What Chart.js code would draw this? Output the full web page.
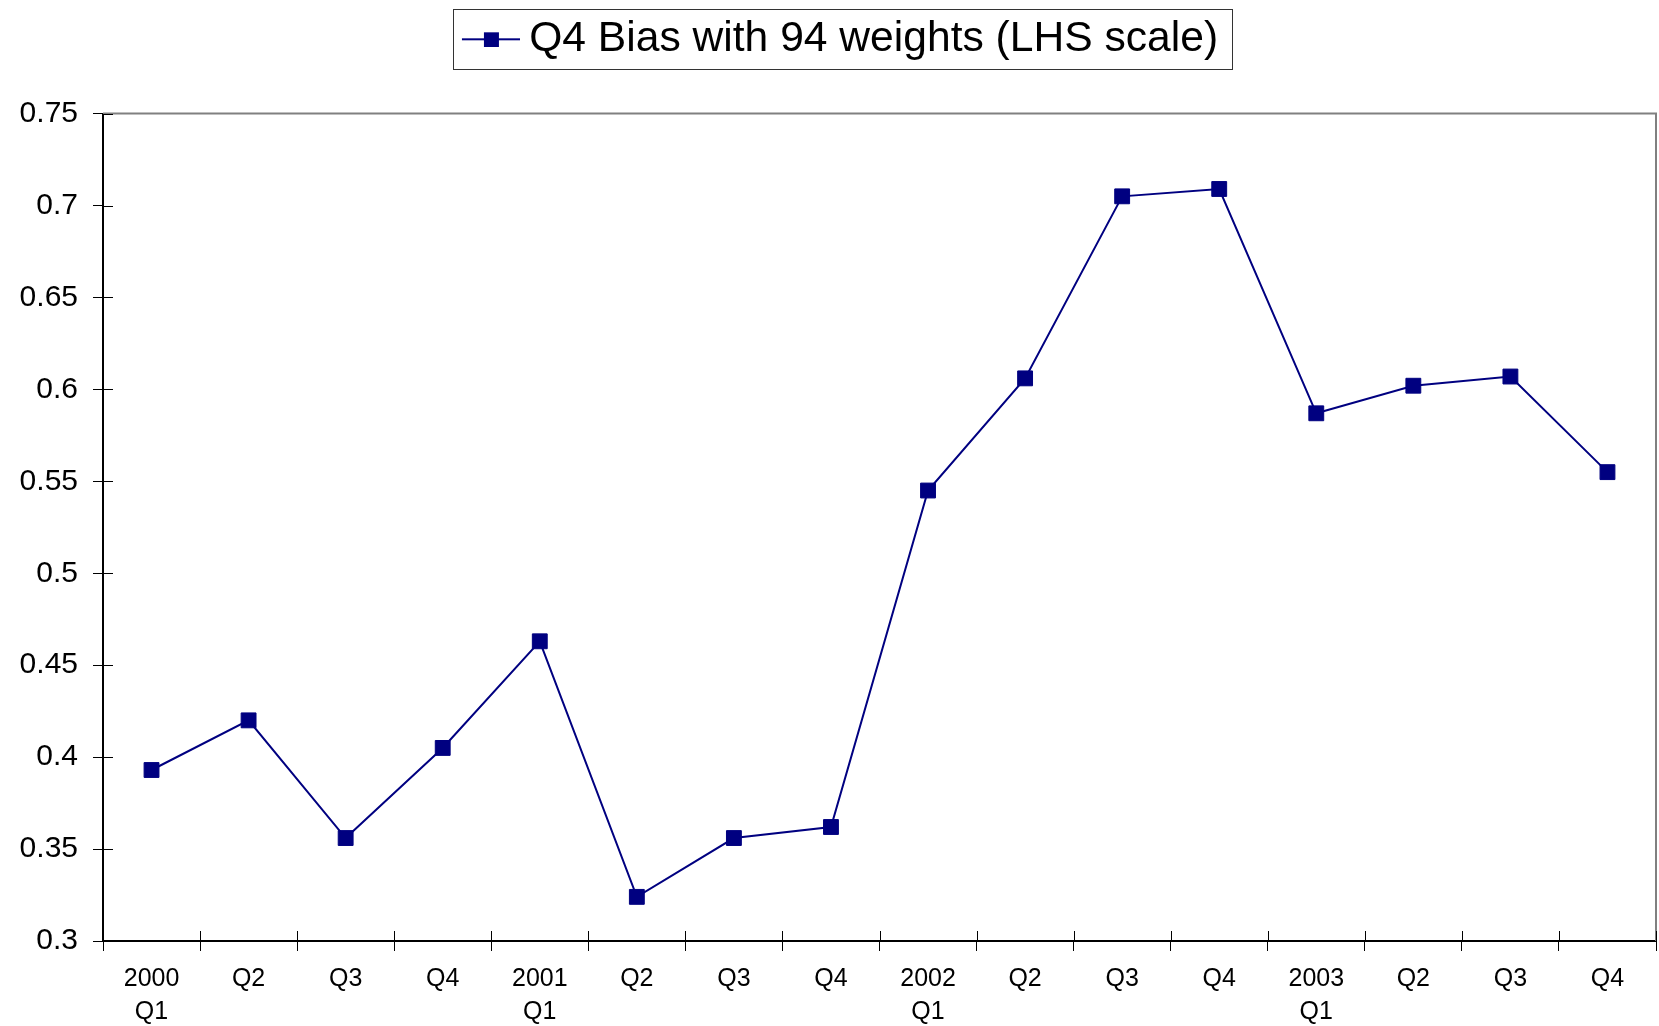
<!DOCTYPE html>
<html>
<head>
<meta charset="utf-8">
<script src="https://cdn.jsdelivr.net/npm/chart.js@4/dist/chart.umd.min.js"></script>
<style>
  body { margin: 0; background: #fff; }
  canvas { display: block; }
</style>
</head>
<body>
<canvas id="bias-chart" width="1659" height="1026"></canvas>
<script>
const quarters = [
  ["2000", "Q1"], "Q2", "Q3", "Q4",
  ["2001", "Q1"], "Q2", "Q3", "Q4",
  ["2002", "Q1"], "Q2", "Q3", "Q4",
  ["2003", "Q1"], "Q2", "Q3", "Q4"
];
const biasValues = [0.393, 0.420, 0.356, 0.405, 0.463, 0.324, 0.356, 0.362,
                    0.545, 0.606, 0.705, 0.709, 0.587, 0.602, 0.607, 0.555];
const seriesName = "Q4 Bias with 94 weights (LHS scale)";
const yTicks = [0.3, 0.35, 0.4, 0.45, 0.5, 0.55, 0.6, 0.65, 0.7, 0.75];

const navy = "#000080";
const font = "'Liberation Sans', Arial, sans-serif";

// legend symbol: short line with a square in the middle
function legendSymbol() {
  const c = document.createElement("canvas");
  c.width = 94;
  c.height = 16;
  const ctx = c.getContext("2d");
  ctx.strokeStyle = navy;
  ctx.lineWidth = 2;
  ctx.beginPath();
  ctx.moveTo(36, 8);
  ctx.lineTo(94, 8);
  ctx.stroke();
  ctx.fillStyle = navy;
  ctx.fillRect(58, 1, 15, 15);
  return c;
}

const framePlugin = {
  id: "frame",
  afterDraw(chart) {
    const ctx = chart.ctx;
    const a = chart.chartArea;
    const y = chart.scales.y;
    ctx.save();
    // grey top and right border
    ctx.strokeStyle = "#808080";
    ctx.lineWidth = 2;
    ctx.beginPath();
    ctx.moveTo(a.left, a.top);
    ctx.lineTo(a.right, a.top);
    ctx.lineTo(a.right, a.bottom);
    ctx.stroke();
    // inner halves of the tick marks
    ctx.strokeStyle = "#000";
    ctx.lineWidth = 1;
    ctx.beginPath();
    yTicks.forEach(v => {
      const py = Math.round(y.getPixelForValue(v)) + 0.5;
      ctx.moveTo(a.left, py);
      ctx.lineTo(a.left + 10, py);
    });
    const step = (a.right - a.left) / quarters.length;
    for (let i = 0; i <= quarters.length; i++) {
      const px = Math.round(a.left + i * step) + 0.5;
      ctx.moveTo(px, a.bottom);
      ctx.lineTo(px, a.bottom - 10);
    }
    ctx.stroke();
    // legend box
    const hb = chart.legend.legendHitBoxes[0];
    if (hb) {
      ctx.strokeStyle = "#333";
      ctx.lineWidth = 1;
      ctx.strokeRect(Math.round(hb.left + 15) + 0.5, Math.round(hb.top - 9) + 0.5,
                     Math.round(hb.width - 1), Math.round(hb.height + 17));
    }
    ctx.restore();
  }
};

new Chart(document.getElementById("bias-chart"), {
  type: "line",
  data: {
    labels: quarters,
    datasets: [{
      label: seriesName,
      data: biasValues,
      borderColor: navy,
      backgroundColor: navy,
      borderWidth: 2,
      tension: 0,
      clip: false,
      pointStyle: "rect",
      pointRadius: 10.5,
      pointHoverRadius: 10.5,
      pointBackgroundColor: navy,
      pointBorderColor: navy,
      pointBorderWidth: 1
    }]
  },
  options: {
    responsive: false,
    animation: false,
    devicePixelRatio: 1,
    layout: { autoPadding: false, padding: { left: 0, right: 3, top: 0, bottom: 0 } },
    plugins: {
      legend: {
        display: true,
        position: "top",
        labels: {
          usePointStyle: true,
          pointStyleWidth: 70,
          pointStyle: legendSymbol(),
          padding: 18,
          color: "#000",
          font: { family: font, size: 42.6 }
        }
      },
      subtitle: {
        display: true,
        text: " ",
        weight: 500,
        font: { size: 10, lineHeight: 1 },
        padding: { top: 0, bottom: 33 }
      },
      tooltip: { enabled: false }
    },
    scales: {
      x: {
        type: "category",
        offset: true,
        grid: { display: true, offset: true, drawOnChartArea: false, tickLength: 10, color: "#000", lineWidth: 1 },
        border: { display: true, color: "#000", width: 2 },
        ticks: {
          color: "#000",
          maxRotation: 0,
          autoSkip: false,
          padding: 12,
          font: { family: font, size: 25, lineHeight: 1.32 }
        },
        afterFit(s) {
          s.height = 85;
          s.paddingLeft = 0;
          s.paddingRight = 0;
        }
      },
      y: {
        min: 0.3,
        max: 0.75,
        grid: { display: true, drawOnChartArea: false, tickLength: 10, color: "#000", lineWidth: 1 },
        border: { display: true, color: "#000", width: 2 },
        ticks: {
          stepSize: 0.05,
          color: "#000",
          padding: 15,
          font: { family: font, size: 30 },
          callback: v => String(+v.toFixed(2))
        },
        afterFit(s) { s.width = 103; }
      }
    }
  },
  plugins: [framePlugin]
});
</script>
</body>
</html>
